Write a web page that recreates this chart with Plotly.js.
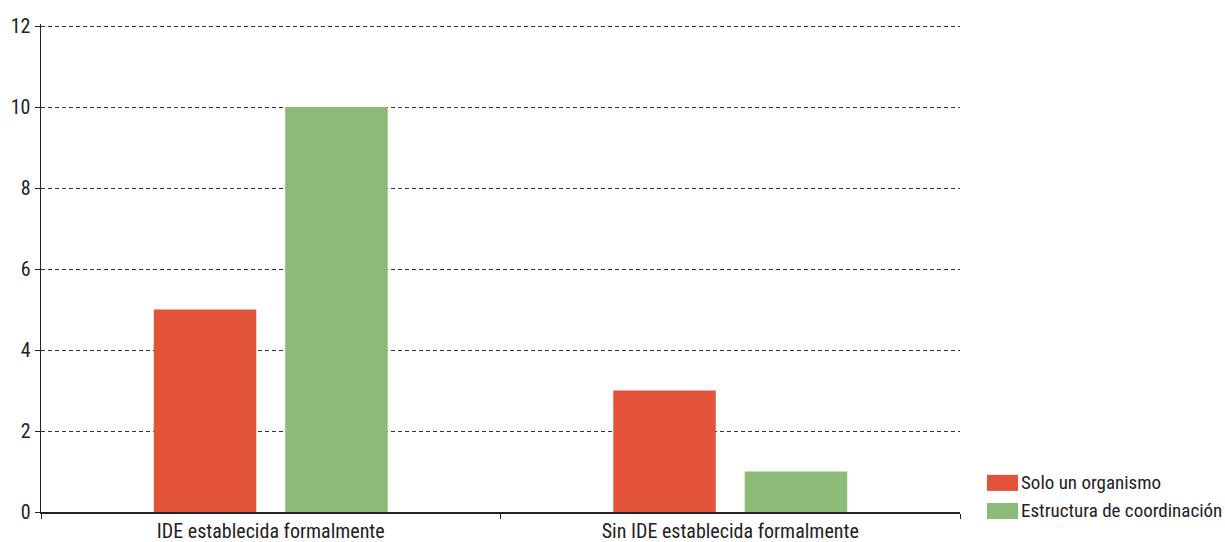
<!DOCTYPE html>
<html>
<head>
<meta charset="utf-8">
<script src="https://cdn.plot.ly/plotly-3.0.1.min.js"></script>
<style>html,body{margin:0;padding:0;background:#fff;}#chart{width:1225px;height:542px;}</style>
</head>
<body>
<div id="chart"></div>
<script>
var categories = ["IDE establecida formalmente", "Sin IDE establecida formalmente"];
var seriesNames = ["Solo un organismo", "Estructura de coordinación"];
var soloUnOrganismo = [5, 3];
var estructuraCoordinacion = [10, 1];
var yTicks = [0, 2, 4, 6, 8, 10, 12];

var colors = ["#E2533A", "#8BBB77"];
var FONT = "'Roboto Condensed', Roboto, sans-serif";
var FS = 20;

var traces = [
  {type: "bar", name: seriesNames[0], x: categories, y: soloUnOrganismo,
   marker: {color: colors[0], line: {width: 0}}, showlegend: false, hoverinfo: "x+y"},
  {type: "bar", name: seriesNames[1], x: categories, y: estructuraCoordinacion,
   marker: {color: colors[1], line: {width: 0}}, showlegend: false, hoverinfo: "x+y"}
];

// legend drawn as paper shapes + annotations
var legX0 = 1.0294, legX1 = 1.0631, legTextX = 1.064;
var legY = [[0.0432, 0.0761], [-0.0144, 0.0185]];
var shapes = [], annotations = [];
for (var i = 0; i < seriesNames.length; i++) {
  shapes.push({type: "rect", xref: "paper", yref: "paper", x0: legX0, x1: legX1,
    y0: legY[i][0], y1: legY[i][1], fillcolor: colors[i], line: {width: 0}});
  annotations.push({xref: "paper", yref: "paper", x: legTextX, y: (legY[i][0] + legY[i][1]) / 2,
    xanchor: "left", yanchor: "middle", showarrow: false, text: seriesNames[i],
    font: {family: FONT, size: 19, color: "#222"}});
}

var layout = {
  width: 1225, height: 542,
  margin: {l: 41, r: 265, t: 24, b: 30},
  paper_bgcolor: "#fff", plot_bgcolor: "#fff",
  font: {family: FONT, size: FS, color: "#222"},
  barmode: "group", bargap: 0.428, bargroupgap: 0.22,
  showlegend: false,
  xaxis: {
    type: "category", showline: true, linecolor: "#222", linewidth: 1.5,
    ticks: "outside", tickson: "boundaries", ticklen: 5, tickcolor: "#222", tickwidth: 1,
    showgrid: false, zeroline: false, tickfont: {family: FONT, size: FS, color: "#222"}
  },
  yaxis: {
    range: [0, 12.05], tickmode: "array", tickvals: yTicks, ticktext: yTicks.map(String),
    showline: true, linecolor: "#222", linewidth: 1.5,
    ticks: "outside", ticklen: 5, tickcolor: "#222",
    showgrid: true, gridcolor: "#333", gridwidth: 1, griddash: "4px,3px",
    zeroline: false, tickfont: {family: FONT, size: FS, color: "#222"}
  },
  shapes: shapes,
  annotations: annotations
};

Plotly.newPlot("chart", traces, layout, {displayModeBar: false, staticPlot: true});
</script>
</body>
</html>
